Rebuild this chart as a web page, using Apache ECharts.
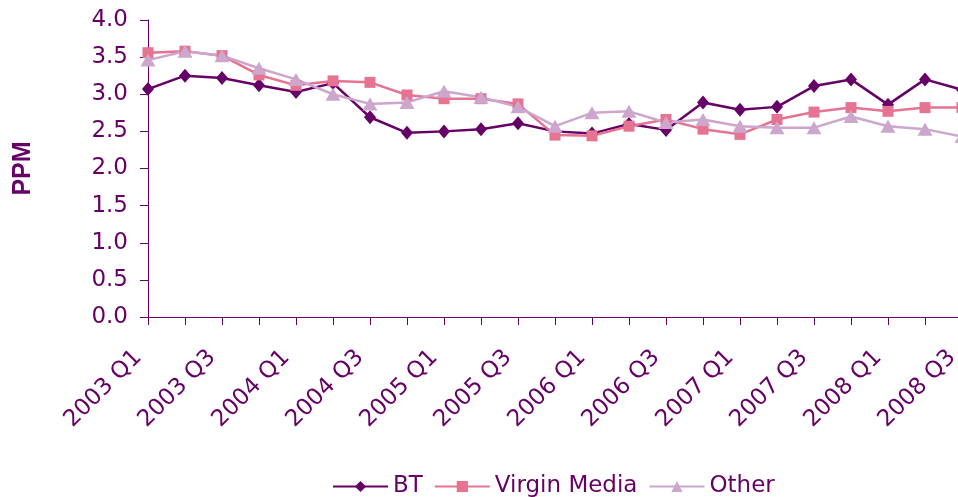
<!DOCTYPE html>
<html>
<head>
<meta charset="utf-8">
<script src="https://cdn.jsdelivr.net/npm/echarts@6/dist/echarts.min.js"></script>
<style>
  html, body { margin: 0; padding: 0; background: #fff; }
  #chart { width: 958px; height: 497px; }
</style>
</head>
<body>
<div id="chart"></div>
<script>
var quarters = [
  '2003 Q1', '2003 Q2', '2003 Q3', '2003 Q4',
  '2004 Q1', '2004 Q2', '2004 Q3', '2004 Q4',
  '2005 Q1', '2005 Q2', '2005 Q3', '2005 Q4',
  '2006 Q1', '2006 Q2', '2006 Q3', '2006 Q4',
  '2007 Q1', '2007 Q2', '2007 Q3', '2007 Q4',
  '2008 Q1', '2008 Q2', '2008 Q3'
];

var btValues = [3.07, 3.25, 3.22, 3.12, 3.03, 3.15, 2.69, 2.48, 2.50, 2.53, 2.61, 2.50,
  2.47, 2.60, 2.52, 2.89, 2.79, 2.83, 3.11, 3.20, 2.86, 3.20, 3.06];
var virginValues = [3.56, 3.58, 3.52, 3.26, 3.12, 3.18, 3.16, 2.99, 2.94, 2.94, 2.87, 2.45,
  2.44, 2.57, 2.66, 2.53, 2.46, 2.66, 2.76, 2.82, 2.77, 2.82, 2.82];
var otherValues = [3.46, 3.58, 3.52, 3.35, 3.20, 3.00, 2.87, 2.89, 3.04, 2.96, 2.83, 2.57,
  2.75, 2.77, 2.62, 2.66, 2.57, 2.55, 2.55, 2.70, 2.57, 2.53, 2.43];

var purple = '#660066';
var font = 'DejaVu Sans, sans-serif';

var chart = echarts.init(document.getElementById('chart'));

function lineSeries(name, data, color, symbol, size) {
  return {
    name: name,
    type: 'line',
    data: data,
    symbol: symbol,
    symbolSize: size,
    showAllSymbol: true,
    lineStyle: { color: color, width: 2.5 },
    itemStyle: { color: color },
    emphasis: { disabled: true },
    animation: false
  };
}

chart.setOption({
  backgroundColor: '#ffffff',
  grid: {
    left: 148, top: 20, right: -4, bottom: 180,
    containLabel: false,
    outerBoundsMode: 'none'
  },
  legend: {
    left: 332,
    top: 475,
    padding: 0,
    itemWidth: 55,
    itemHeight: 14,
    itemGap: 11,
    textStyle: { color: purple, fontSize: 23, fontFamily: font },
    data: ['BT', 'Virgin Media', 'Other']
  },
  xAxis: {
    type: 'category',
    data: quarters,
    boundaryGap: false,
    axisLine: { lineStyle: { color: purple, width: 1 } },
    axisTick: { show: true, interval: 0, length: 8, lineStyle: { color: purple } },
    axisLabel: {
      interval: 1,
      rotate: 45,
      margin: 27,
      padding: [0, 14, 0, 0],
      color: purple,
      fontSize: 23,
      fontFamily: font
    },
    splitLine: { show: false }
  },
  yAxis: {
    type: 'value',
    min: 0,
    max: 4,
    interval: 0.5,
    name: 'PPM',
    nameLocation: 'middle',
    nameRotate: 90,
    nameGap: 112,
    nameTextStyle: { color: purple, fontSize: 25, fontWeight: 'bold', fontFamily: 'Liberation Sans, Arial, sans-serif' },
    axisLine: { show: true, lineStyle: { color: purple, width: 1 } },
    axisTick: { show: true, length: 8, lineStyle: { color: purple } },
    axisLabel: {
      margin: 20,
      color: purple,
      fontSize: 23,
      fontFamily: font,
      formatter: function (v) { return v.toFixed(1); }
    },
    splitLine: { show: false }
  },
  series: [
    lineSeries('BT', btValues, purple, 'diamond', [12, 14]),
    lineSeries('Virgin Media', virginValues, '#e57391', 'rect', 11),
    lineSeries('Other', otherValues, '#cca6cc', 'triangle', [15, 13])
  ]
});
</script>
</body>
</html>
